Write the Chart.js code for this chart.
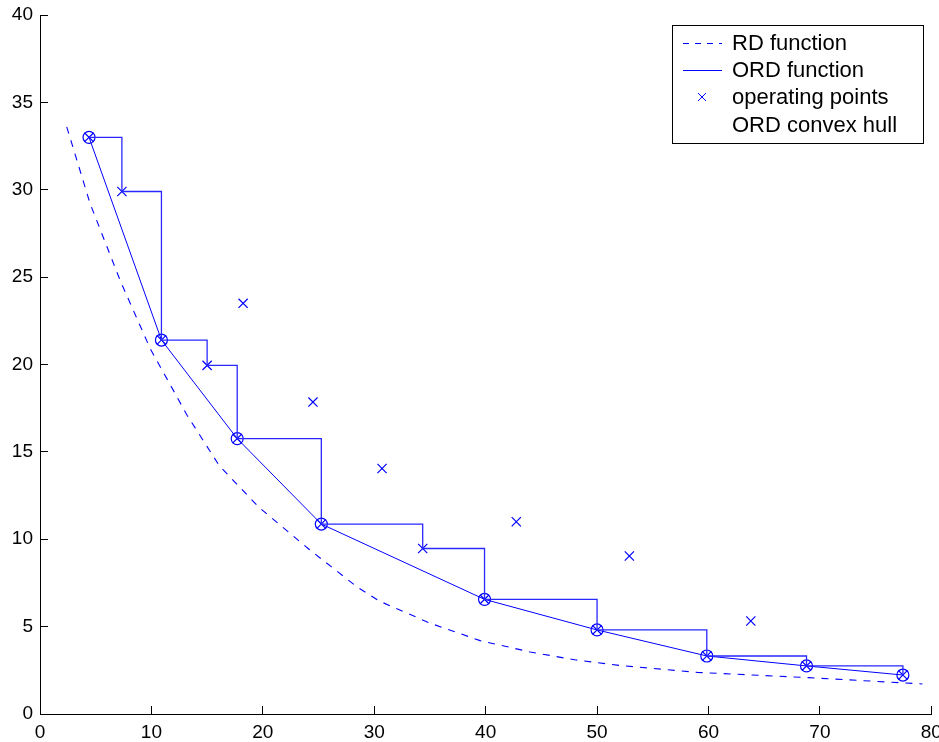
<!DOCTYPE html>
<html>
<head>
<meta charset="utf-8">
<script src="https://cdn.jsdelivr.net/npm/chart.js@4.4.0/dist/chart.umd.min.js"></script>
<style>
    html, body { margin: 0; padding: 0; background: #fff; }
    #wrap { width: 939px; height: 742px; }
</style>
</head>
<body>
<div id="wrap"><canvas id="rd_chart"></canvas></div>
<script>
// RD function (dashed curve)
const rdX = [2.4, 4.5, 7.2, 9.9, 13.2, 16.1, 19.7, 24.2, 28.4, 30.5, 35, 39.5, 44, 48, 52, 59, 69, 79.2];
const rdY = [33.6, 29.2, 24.8, 20.9, 17.1, 14.2, 11.8, 9.4, 7.3, 6.45, 5.2, 4.2, 3.55, 3.1, 2.78, 2.38, 2.08, 1.72];

// ORD function (staircase through the lower envelope)
const ordX = [4.4, 7.35, 10.9, 15.0, 17.7, 25.25, 34.35, 39.9, 50.0, 59.85, 68.8, 77.45];
const ordY = [33.0, 29.9, 21.4, 19.95, 15.76, 10.87, 9.47, 6.56, 4.81, 3.32, 2.75, 2.23];

// operating points not on the staircase
const extraX = [18.23, 24.5, 30.7, 42.75, 52.9, 63.8];
const extraY = [23.5, 17.85, 14.05, 11.0, 9.04, 5.32];

// convex hull
const hullX = [4.4, 10.9, 17.7, 25.25, 39.9, 50.0, 59.85, 68.8, 77.45];
const hullY = [33.0, 21.4, 15.76, 10.87, 6.56, 4.81, 3.32, 2.75, 2.23];

const xTicks = [0, 10, 20, 30, 40, 50, 60, 70, 80];
const yTicks = [0, 5, 10, 15, 20, 25, 30, 35, 40];

const pts = (xs, ys) => xs.map((x, i) => ({ x: x, y: ys[i] }));
const blue = "rgb(0,0,255)";

const rdCtx = document.querySelector("#rd_chart").getContext("2d");

// legend box drawn inside the plot area, like the original figure
const boxLegend = {
    id: "boxLegend",
    afterDraw(chart) {
        const ctx = chart.ctx;
        const left = 672.5, top = 25.5, w = 251, h = 118;
        const rows = [43, 70, 97, 125];
        ctx.save();
        ctx.fillStyle = "#fff";
        ctx.fillRect(left, top, w, h);
        ctx.strokeStyle = "#000";
        ctx.lineWidth = 1;
        ctx.strokeRect(left, top, w, h);
        ctx.font = "22px 'Liberation Sans', Arial, sans-serif";
        ctx.textBaseline = "middle";
        chart.data.datasets.forEach((ds, i) => {
            const y = rows[i];
            ctx.strokeStyle = blue;
            ctx.lineWidth = 1;
            if (ds.legendKind === "dash" || ds.legendKind === "line") {
                ctx.setLineDash(ds.legendKind === "dash" ? [6, 6] : []);
                ctx.beginPath();
                ctx.moveTo(683, y + 0.5);
                ctx.lineTo(722, y + 0.5);
                ctx.stroke();
                ctx.setLineDash([]);
            } else if (ds.legendKind === "cross") {
                ctx.beginPath();
                ctx.moveTo(698, y - 4);
                ctx.lineTo(706, y + 4);
                ctx.moveTo(706, y - 4);
                ctx.lineTo(698, y + 4);
                ctx.stroke();
            }
            ctx.fillStyle = "#000";
            ctx.fillText(ds.label, 732, y + 1);
        });
        ctx.restore();
    },
};

const rdChart = new Chart(rdCtx, {
    type: "scatter",
    data: {
        datasets: [
            {
                label: "RD function",
                legendKind: "dash",
                data: pts(rdX, rdY),
                showLine: true,
                borderColor: blue,
                borderWidth: 1.1,
                borderDash: [7, 7],
                pointRadius: 0,
                tension: 0,
            },
            {
                label: "ORD function",
                legendKind: "line",
                data: pts(ordX, ordY),
                showLine: true,
                stepped: "before",
                borderColor: "rgb(40,40,255)",
                borderWidth: 1.3,
                pointRadius: 0,
            },
            {
                label: "operating points",
                legendKind: "cross",
                data: pts(ordX.concat(extraX), ordY.concat(extraY)),
                showLine: false,
                pointStyle: "crossRot",
                pointRadius: 6.5,
                pointBorderWidth: 1.2,
                pointBorderColor: blue,
                pointBackgroundColor: blue,
            },
            {
                label: "ORD convex hull",
                legendKind: "none",
                data: pts(hullX, hullY),
                showLine: true,
                borderColor: blue,
                borderWidth: 1,
                pointStyle: "circle",
                pointRadius: 6,
                pointBorderWidth: 1.2,
                pointBorderColor: blue,
                pointBackgroundColor: "rgba(0,0,0,0)",
            },
        ],
    },
    options: {
        responsive: true,
        maintainAspectRatio: false,
        animation: false,
        layout: {
            padding: { top: 15, right: 7, left: 0, bottom: 0 },
        },
        plugins: {
            legend: { display: false },
            tooltip: { enabled: false },
        },
        scales: {
            x: {
                type: "linear",
                position: "bottom",
                min: 0,
                max: 80,
                afterBuildTicks: (scale) => {
                    scale.ticks = xTicks.map((v) => ({ value: v }));
                },
                afterFit: (scale) => {
                    scale.height = 28;
                    scale.paddingLeft = 0;
                    scale.paddingRight = 0;
                },
                ticks: {
                    color: "#000",
                    padding: 15,
                    maxRotation: 0,
                    font: { family: "'Liberation Sans', Arial, sans-serif", size: 19 },
                },
                grid: {
                    drawOnChartArea: false,
                    drawTicks: true,
                    tickLength: -8,
                    color: "#000",
                },
                border: { display: true, color: "#000", width: 1 },
            },
            y: {
                type: "linear",
                position: "left",
                min: 0,
                max: 40,
                afterBuildTicks: (scale) => {
                    scale.ticks = yTicks.map((v) => ({ value: v }));
                },
                afterFit: (scale) => {
                    scale.width = 40;
                    scale.paddingTop = 0;
                    scale.paddingBottom = 0;
                },
                ticks: {
                    color: "#000",
                    padding: 15,
                    font: { family: "'Liberation Sans', Arial, sans-serif", size: 19 },
                },
                grid: {
                    drawOnChartArea: false,
                    drawTicks: true,
                    tickLength: -8,
                    color: "#000",
                },
                border: { display: true, color: "#000", width: 1 },
            },
        },
    },
    plugins: [boxLegend],
});
</script>
</body>
</html>
